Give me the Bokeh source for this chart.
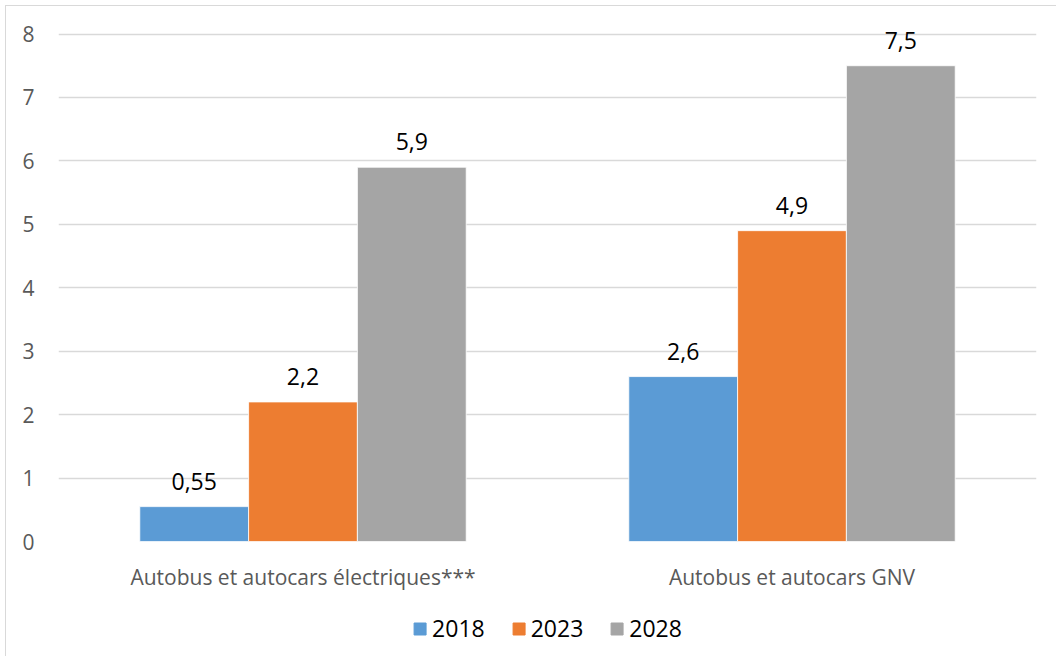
from bokeh.plotting import figure
from bokeh.models import ColumnDataSource, Legend, LegendItem, FixedTicker, Range1d
from bokeh.layouts import column
from bokeh.transform import dodge
from bokeh.embed import file_html
from bokeh.resources import INLINE
from bokeh.core.properties import value

categories = ["Autobus et autocars électriques***", "Autobus et autocars GNV"]
years = ["2018", "2023", "2028"]
v2018 = [0.55, 2.6]
v2023 = [2.2, 4.9]
v2028 = [5.9, 7.5]
colors = ["#5B9BD5", "#ED7D31", "#A5A5A5"]
y_ticks = [0, 1, 2, 3, 4, 5, 6, 7, 8]

FONT = "Open Sans"

def fmt(v):
    return ("%g" % v).replace(".", ",")

src = ColumnDataSource(dict(
    cat=categories,
    v2018=v2018, v2023=v2023, v2028=v2028,
    l2018=[fmt(v) for v in v2018],
    l2023=[fmt(v) for v in v2023],
    l2028=[fmt(v) for v in v2028],
))

p = figure(x_range=categories, y_range=(0, 8.15), width=1050, height=594,
           output_backend="svg", toolbar_location=None,
           min_border_left=52, min_border_right=20, min_border_top=18, min_border_bottom=59)
p.outline_line_color = None
p.background_fill_color = "white"
p.border_fill_color = "white"

w = 0.2225
offsets = [-w, 0, w]
for k, off, col in zip(years, offsets, colors):
    p.vbar(x=dodge("cat", off, range=p.x_range), top="v" + k, width=w, source=src,
           fill_color=col, line_color="white", line_width=0.8)
    p.text(x=dodge("cat", off, range=p.x_range), y="v" + k, text="l" + k, source=src,
           text_align="center", text_baseline="bottom", y_offset=-17,
           text_font=value(FONT), text_font_size="23px", text_color="#000000")

p.ygrid.grid_line_color = "#d9d9d9"
p.ygrid.grid_line_width = 1.5
p.xgrid.grid_line_color = None
p.yaxis.ticker = FixedTicker(ticks=y_ticks)
p.yaxis.axis_line_color = None
p.yaxis.major_tick_line_color = None
p.yaxis.minor_tick_line_color = None
p.yaxis.major_label_text_font = FONT
p.yaxis.major_label_text_font_size = "21px"
p.yaxis.major_label_text_color = "#595959"
p.yaxis.major_label_standoff = 18
p.xaxis.axis_line_color = None
p.xaxis.major_tick_line_color = None
p.xaxis.major_label_text_font = FONT
p.xaxis.major_label_text_font_size = "21px"
p.xaxis.major_label_text_color = "#595959"
p.xaxis.major_label_standoff = 15

# legend strip
p2 = figure(width=1050, height=56, output_backend="svg", toolbar_location=None,
            x_axis_type=None, y_axis_type=None,
            x_range=Range1d(0, 1), y_range=Range1d(0, 1),
            min_border_left=10, min_border_right=0, min_border_top=0, min_border_bottom=0)
p2.outline_line_color = None
p2.xgrid.grid_line_color = None
p2.ygrid.grid_line_color = None
items = []
for k, col in zip(years, colors):
    r = p2.vbar(x=[-5], bottom=[-5], top=[-4], width=0.5, fill_color=col, line_color=col)
    items.append(LegendItem(label=k, renderers=[r]))
legend = Legend(items=items, orientation="horizontal", location="center",
                label_text_font=FONT, label_text_font_size="23px", label_text_color="#000000",
                glyph_width=15, glyph_height=15, spacing=26, label_standoff=5,
                border_line_color=None, background_fill_alpha=0, margin=0, padding=0)
p2.add_layout(legend, "center")

layout = column(p, p2, spacing=0)
layout.styles = {"border-top": "1.5px solid #d9d9d9", "border-left": "1.5px solid #d9d9d9",
                 "margin-top": "5px", "margin-left": "5px"}

open("out.html", "w").write(file_html(layout, INLINE))
